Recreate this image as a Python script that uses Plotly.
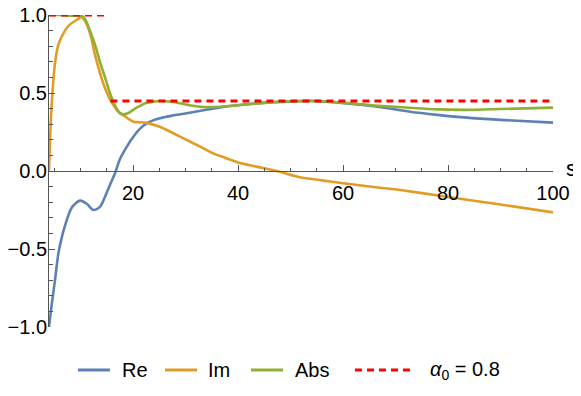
import plotly.graph_objects as go

# ---- data ----
s_re = [4, 4.5, 5.14, 5.78, 6.4, 7.05, 8.32, 9.9, 11.2, 12.44, 13.7, 14.67, 15.6, 16.57,
        17.5, 18.8, 20.06, 21.3, 22.6, 25.1, 27.5, 30.2, 33.4, 36.6, 41.7, 46.1, 50, 55,
        61.3, 66, 72.8, 78, 83.6, 90, 100]
re_vals = [-1.0, -0.86, -0.70, -0.53, -0.43, -0.35, -0.235, -0.19, -0.21, -0.25, -0.23, -0.165,
           -0.09, -0.015, 0.075, 0.155, 0.22, 0.27, 0.306, 0.338, 0.355, 0.37, 0.39, 0.408,
           0.428, 0.44, 0.446, 0.448, 0.432, 0.415, 0.38, 0.36, 0.342, 0.328, 0.31]

s_im = [4, 4.2, 4.5, 5.14, 5.78, 7.05, 8, 9.58, 10.2, 11.2, 12, 12.76, 14.67, 16.25, 17.5,
        18.48, 20.06, 22.3, 25.1, 27.5, 30.2, 32.8, 35.3, 37.5, 40, 43, 45, 47.4, 51.8, 56,
        60.06, 67, 70.9, 79.75, 90, 100]
im_vals = [0.0, 0.2, 0.42, 0.69, 0.81, 0.90, 0.94, 0.975, 0.988, 0.94, 0.86, 0.744, 0.53,
           0.423, 0.37, 0.35, 0.316, 0.31, 0.284, 0.245, 0.199, 0.156, 0.113, 0.085, 0.055,
           0.032, 0.017, 0.0, -0.04, -0.06, -0.079, -0.107, -0.122, -0.165, -0.215, -0.265]

s_abs = [4, 6, 8, 9.5, 10.2, 10.86, 11.8, 12.76, 13.7, 14.67, 15.6, 16.57, 17.4, 18.3, 19.3,
         20.4, 21.3, 22.3, 23.9, 25.1, 27, 28.95, 31, 33.4, 36.6, 39, 41.7, 46.1, 50, 55,
         61.3, 66, 72, 78, 83.6, 90, 100]
abs_vals = [1.0, 1.0, 0.995, 0.995, 0.995, 0.975, 0.9, 0.81, 0.7, 0.6, 0.5, 0.42, 0.375,
            0.363, 0.375, 0.40, 0.417, 0.434, 0.444, 0.449, 0.445, 0.434, 0.42, 0.41, 0.412,
            0.418, 0.427, 0.44, 0.447, 0.449, 0.434, 0.42, 0.407, 0.395, 0.392, 0.397, 0.406]

s_ref = [4, 15.3, None, 15.7, 100]
ref_vals = [1.0, 1.0, None, 0.449, 0.449]

series_names = ["Re", "Im", "Abs", "<i>α</i><sub>0</sub> = 0.8"]
colors = ["#5E81B5", "#E19C24", "#8FB032", "#FF0000"]

FONT = "Liberation Sans, Arial, sans-serif"

fig = go.Figure()
for sx, sy, c in [(s_re, re_vals, colors[0]), (s_im, im_vals, colors[1]), (s_abs, abs_vals, colors[2])]:
    fig.add_trace(go.Scatter(x=sx, y=sy, mode="lines", showlegend=False,
                             line=dict(color=c, width=2.6, shape="spline", smoothing=0.8)))
fig.add_trace(go.Scatter(x=s_ref, y=ref_vals, mode="lines", showlegend=False,
                         line=dict(color=colors[3], width=3, dash="7px,5px")))

axis_col = "#555555"
fig.update_layout(
    width=573, height=380,
    margin=dict(l=41, r=28, t=7, b=61),
    paper_bgcolor="white", plot_bgcolor="white",
    font=dict(family=FONT, size=20, color="black"),
    xaxis=dict(range=[4, 100], tick0=0, dtick=20, showgrid=False, zeroline=False,
               showline=True, linecolor=axis_col, linewidth=1, automargin=False,
               ticks="inside", ticklen=6, tickcolor=axis_col, ticklabeloverflow="allow",
               minor=dict(dtick=5, tick0=0, ticks="inside", ticklen=3.5, tickcolor=axis_col),
               anchor="free", position=0.5, tickfont=dict(size=20), ticklabelstandoff=4),
    yaxis=dict(range=[-1, 1], tick0=0, dtick=0.5, tickformat=".1f", showgrid=False,
               zeroline=False, showline=True, linecolor=axis_col, linewidth=1, automargin=False,
               ticks="inside", ticklen=6, tickcolor=axis_col, ticklabeloverflow="allow",
               minor=dict(dtick=0.1, tick0=0, ticks="inside", ticklen=4, tickcolor=axis_col),
               tickfont=dict(size=20), ticklabelstandoff=-3),
)

# axis label
fig.add_annotation(text="s", xref="paper", yref="paper", x=1.0, y=0.5, xshift=11, yshift=3,
                   xanchor="left", yanchor="middle", showarrow=False, font=dict(size=22))

# manual legend
leg_y = -0.138
line_x = [(0.0575, 0.121), (0.2302, 0.2937), (0.4008, 0.4643), (0.6071, 0.7222)]
text_x = [0.1448, 0.3155, 0.4881, 0.7560]
for i, name in enumerate(series_names):
    x0, x1 = line_x[i]
    fig.add_shape(type="line", xref="paper", yref="paper", x0=x0, x1=x1, y0=leg_y, y1=leg_y,
                  line=dict(color=colors[i], width=3, dash="7px,5px" if i == 3 else "solid"))
    fig.add_annotation(text=name, xref="paper", yref="paper", x=text_x[i], y=leg_y,
                       xanchor="left", yanchor="middle", showarrow=False, xshift=-2,
                       font=dict(size=20))

fig.write_html("out.html")
